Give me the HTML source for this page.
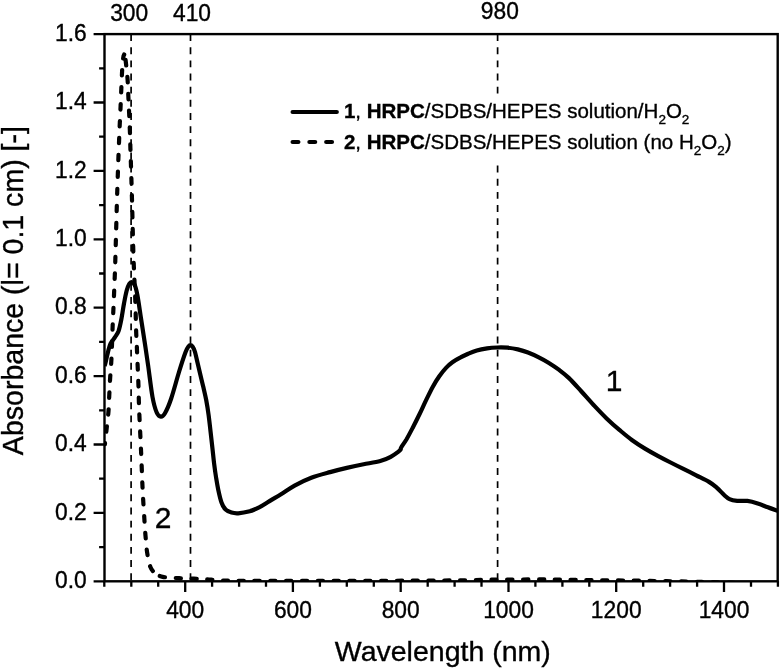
<!DOCTYPE html>
<html><head><meta charset="utf-8"><title>Absorbance spectrum</title>
<style>html,body{margin:0;padding:0;background:#fff}svg{display:block}</style></head>
<body>
<svg width="781" height="670" viewBox="0 0 781 670">
<rect width="781" height="670" fill="#fff"/>
<line x1="131.1" y1="34.1" x2="131.1" y2="581.3" stroke="#000" stroke-width="1.7" stroke-dasharray="6.9 6.25"/>
<line x1="190.5" y1="34.1" x2="190.5" y2="581.3" stroke="#000" stroke-width="1.7" stroke-dasharray="6.9 6.25"/>
<line x1="497.6" y1="34.1" x2="497.6" y2="581.3" stroke="#000" stroke-width="1.7" stroke-dasharray="6.9 6.25"/>
<clipPath id="cp"><rect x="104.5" y="34.1" width="673.2" height="547.2"/></clipPath>
<g fill="none" stroke="#000" stroke-linejoin="round" stroke-width="4.2" clip-path="url(#cp)">
<path d="M104.3 365.5C104.5 365.2 104.6 366.2 105.2 364.0C105.8 361.8 107.0 355.8 107.9 352.4C108.8 349.0 109.3 346.1 110.5 343.6C111.7 341.1 113.7 339.3 115.0 337.2C116.3 335.1 117.5 333.8 118.6 330.9C119.6 327.9 120.4 324.1 121.3 319.5C122.2 314.9 123.1 308.3 124.0 303.5C124.9 298.7 125.8 293.8 126.7 290.5C127.6 287.2 128.5 285.2 129.3 283.8C130.2 282.4 130.9 282.0 131.8 282.2C132.7 282.4 133.8 282.6 134.7 284.8C135.6 287.0 136.3 289.5 137.4 295.1C138.5 300.7 139.8 310.6 141.0 318.4C142.2 326.1 143.4 333.7 144.6 341.6C145.8 349.5 146.9 356.8 148.2 366.0C149.5 375.2 151.1 389.2 152.5 397.0C153.9 404.8 155.3 409.2 156.7 412.5C158.1 415.8 159.5 416.5 160.9 416.6C162.3 416.7 163.4 416.0 165.1 413.0C166.8 410.0 168.9 405.3 171.2 398.5C173.5 391.7 176.6 379.8 179.0 372.0C181.4 364.2 184.0 356.2 185.6 352.0C187.2 347.8 187.7 347.6 188.5 346.5C189.3 345.4 189.7 345.2 190.4 345.2C191.1 345.2 191.7 345.4 192.5 346.5C193.3 347.6 194.2 349.2 195.0 352.0C195.8 354.8 196.7 359.2 197.6 363.0C198.5 366.8 199.4 370.6 200.3 374.5C201.2 378.4 202.2 382.2 203.2 386.5C204.2 390.8 205.3 395.2 206.2 400.0C207.1 404.8 207.9 409.7 208.6 415.0C209.3 420.3 210.0 426.5 210.6 432.0C211.2 437.5 211.8 442.8 212.4 448.0C213.0 453.2 213.5 458.7 214.1 463.5C214.7 468.3 215.3 472.7 216.0 477.0C216.7 481.3 217.3 485.2 218.2 489.5C219.1 493.8 220.3 499.1 221.5 502.5C222.7 505.9 223.9 507.9 225.6 509.6C227.3 511.3 229.4 512.0 231.5 512.6C233.6 513.2 235.3 513.5 238.2 513.3C241.0 513.1 245.1 512.6 248.6 511.6C252.1 510.6 255.6 509.1 259.1 507.4C262.6 505.6 265.9 503.3 269.5 501.1C273.1 498.9 276.8 496.9 281.0 494.3C285.2 491.7 289.6 488.4 294.6 485.6C299.7 482.8 305.4 479.9 311.3 477.7C317.2 475.4 324.2 473.7 330.1 472.1C336.0 470.5 341.2 469.2 346.8 467.9C352.4 466.6 358.0 465.4 363.6 464.3C369.2 463.2 375.8 462.2 380.3 461.0C384.8 459.8 387.7 458.4 390.7 456.8C393.7 455.2 396.9 452.8 398.5 451.6C400.1 450.4 400.1 450.2 400.6 449.5C401.1 448.8 400.3 448.9 401.3 447.2C402.3 445.5 404.4 442.8 406.4 439.5C408.3 436.2 410.8 431.4 413.0 427.2C415.2 422.9 417.4 418.5 419.6 414.0C421.8 409.5 423.9 404.6 426.1 400.1C428.3 395.6 430.5 390.9 432.7 386.9C434.9 382.9 437.1 379.4 439.3 376.3C441.5 373.2 443.6 370.4 445.8 368.1C448.0 365.8 449.9 364.1 452.4 362.3C454.9 360.5 457.9 358.8 460.6 357.4C463.3 355.9 465.8 354.8 468.5 353.6C471.2 352.4 473.7 351.3 476.8 350.4C479.9 349.5 483.7 348.8 487.1 348.3C490.5 347.8 493.9 347.6 497.3 347.5C500.7 347.4 504.2 347.4 507.6 347.7C511.0 348.0 514.4 348.6 517.8 349.4C521.2 350.2 524.6 351.2 528.0 352.5C531.4 353.8 534.9 355.4 538.3 357.1C541.7 358.8 545.1 360.6 548.5 362.7C551.9 364.8 555.4 367.1 558.8 369.7C562.2 372.3 565.3 374.6 569.0 378.1C572.7 381.7 576.9 386.5 581.0 391.0C585.1 395.5 589.5 400.6 593.8 405.2C598.1 409.8 602.3 414.3 606.6 418.4C610.9 422.5 615.1 426.3 619.4 429.9C623.7 433.5 627.9 437.1 632.2 440.2C636.5 443.3 640.7 446.0 645.0 448.6C649.3 451.2 653.5 453.5 657.8 455.8C662.1 458.1 666.3 460.3 670.6 462.5C674.9 464.7 679.1 466.8 683.4 468.9C687.7 471.0 691.9 473.1 696.2 475.3C700.5 477.5 705.6 479.8 709.0 481.9C712.4 483.9 714.1 485.4 716.7 487.6C719.3 489.8 722.3 493.3 724.4 495.2C726.5 497.1 727.4 498.2 729.5 499.1C731.6 500.1 734.2 500.6 737.2 500.9C740.2 501.2 744.0 500.5 747.4 500.9C750.8 501.3 754.3 502.3 757.7 503.4C761.1 504.5 764.6 506.1 767.9 507.3C771.2 508.6 776.1 510.3 777.7 510.9" stroke-linecap="butt"/>
<path d="M124.2 54.5C124.0 55.1 123.6 54.9 123.2 58.0C122.8 61.1 122.4 65.1 122.0 73.1C121.6 81.1 121.1 94.8 120.6 106.0C120.1 117.2 119.6 126.3 119.1 140.3C118.5 154.3 117.9 171.7 117.3 190.0C116.7 208.3 116.0 235.8 115.6 250.0C115.2 264.2 115.2 265.5 114.8 275.4C114.4 285.3 113.8 300.8 113.4 309.4C113.0 318.0 112.9 318.9 112.6 327.3C112.3 335.7 111.8 351.3 111.4 359.6C111.0 367.9 110.6 371.1 110.2 377.0C109.8 382.9 109.6 389.0 109.3 394.7C109.0 400.4 108.9 405.4 108.5 411.0C108.1 416.6 107.2 423.2 106.7 428.0C106.2 432.8 105.7 436.8 105.4 439.5C105.1 442.2 105.0 443.4 104.9 444.2" stroke-linecap="round" stroke-dasharray="5.4 11.57" stroke-dashoffset="1.1"/>
<path d="M124.2 54.5C124.4 55.0 124.9 56.1 125.2 57.5C125.5 58.9 125.5 59.1 125.9 62.8C126.3 66.5 127.2 74.2 127.6 79.9C128.0 85.7 128.1 91.6 128.4 97.3C128.7 103.0 128.9 108.6 129.2 114.3C129.4 120.0 129.7 125.6 129.9 131.3C130.1 137.0 130.1 137.0 130.4 148.4C130.8 159.8 131.5 181.4 132.0 200.0C132.5 218.6 133.0 243.3 133.6 260.0C134.2 276.7 134.9 288.3 135.3 300.4C135.7 312.5 135.9 324.3 136.2 332.7C136.5 341.1 136.7 342.6 137.0 350.6C137.3 358.7 137.9 370.9 138.3 381.0C138.7 391.1 138.7 399.2 139.2 411.0C139.7 422.8 140.6 440.5 141.1 452.0C141.6 463.5 141.9 472.6 142.2 480.0C142.5 487.4 142.7 490.1 143.0 496.4C143.3 502.7 143.9 511.2 144.3 517.8C144.7 524.4 145.0 530.1 145.5 535.8C146.0 541.5 146.3 547.0 147.1 552.2C147.9 557.4 149.0 563.4 150.4 567.0C151.8 570.6 154.5 572.5 155.3 573.6" stroke-linecap="round" stroke-dasharray="5.6 11.3" stroke-dashoffset="11.2"/>
<path d="M155.3 573.6C156.5 574.1 158.7 576.1 162.7 576.9C166.7 577.7 173.9 577.9 179.1 578.2C184.3 578.5 189.2 578.5 193.9 578.7C198.6 578.9 202.7 579.0 207.0 579.3C211.3 579.6 212.8 580.1 220.0 580.4C227.2 580.6 228.3 580.7 250.0 580.8C271.7 580.9 320.0 580.8 350.0 580.8C380.0 580.8 410.0 580.7 430.0 580.6C450.0 580.5 458.3 580.4 470.0 580.2C481.7 580.0 486.7 579.7 500.0 579.6C513.3 579.5 533.3 579.4 550.0 579.5C566.7 579.6 583.3 580.0 600.0 580.2C616.7 580.4 633.3 580.6 650.0 580.9C666.7 581.2 685.0 581.5 700.0 581.9C715.0 582.2 733.3 582.8 740.0 583.0" stroke-linecap="round" stroke-dasharray="5.2 10.6" stroke-dashoffset="-5.3"/>
</g>
<rect x="286" y="96" width="450" height="68" fill="#fff"/>
<line x1="292.6" y1="112" x2="336.8" y2="112" stroke="#000" stroke-width="4.2" stroke-linecap="round"/>
<line x1="292.6" y1="142" x2="339" y2="142" stroke="#000" stroke-width="4.2" stroke-linecap="round" stroke-dasharray="5.8 11"/>
<rect x="104.5" y="34.1" width="673.2" height="547.2" fill="none" stroke="#000" stroke-width="2.4"/>
<path d="M104.5 581.3H93.6M104.5 547.1H99.1M104.5 512.9H93.6M104.5 478.7H99.1M104.5 444.5H93.6M104.5 410.3H99.1M104.5 376.1H93.6M104.5 341.9H99.1M104.5 307.7H93.6M104.5 273.5H99.1M104.5 239.3H93.6M104.5 205.1H99.1M104.5 170.9H93.6M104.5 136.7H99.1M104.5 102.5H93.6M104.5 68.3H99.1M104.5 34.1H93.6M104.3 581.3V586.7M131.3 581.3V586.7M158.2 581.3V586.7M185.2 581.3V591.9M212.1 581.3V586.7M239.1 581.3V586.7M266.0 581.3V586.7M292.9 581.3V591.9M319.9 581.3V586.7M346.8 581.3V586.7M373.8 581.3V586.7M400.7 581.3V591.9M427.7 581.3V586.7M454.6 581.3V586.7M481.5 581.3V586.7M508.5 581.3V591.9M535.4 581.3V586.7M562.4 581.3V586.7M589.3 581.3V586.7M616.2 581.3V591.9M643.2 581.3V586.7M670.1 581.3V586.7M697.1 581.3V586.7M724.0 581.3V591.9M751.0 581.3V586.7M777.9 581.3V586.7" stroke="#000" stroke-width="2.3" fill="none"/>
<g font-family="'Liberation Sans', Arial, sans-serif" fill="#000" stroke="#000" stroke-width="0.35">
<g font-size="22.8px" text-anchor="end">
<text transform="translate(86.8 587.9) scale(1 1.04)">0.0</text>
<text transform="translate(86.8 519.5) scale(1 1.04)">0.2</text>
<text transform="translate(86.8 451.1) scale(1 1.04)">0.4</text>
<text transform="translate(86.8 382.7) scale(1 1.04)">0.6</text>
<text transform="translate(86.8 314.3) scale(1 1.04)">0.8</text>
<text transform="translate(86.8 245.9) scale(1 1.04)">1.0</text>
<text transform="translate(86.8 177.5) scale(1 1.04)">1.2</text>
<text transform="translate(86.8 109.1) scale(1 1.04)">1.4</text>
<text transform="translate(86.8 40.7) scale(1 1.04)">1.6</text>
</g>
<g font-size="22.8px" text-anchor="middle">
<text transform="translate(185.2 617.6) scale(1 1.04)">400</text>
<text transform="translate(292.9 617.6) scale(1 1.04)">600</text>
<text transform="translate(400.7 617.6) scale(1 1.04)">800</text>
<text transform="translate(508.5 617.6) scale(1 1.04)">1000</text>
<text transform="translate(616.2 617.6) scale(1 1.04)">1200</text>
<text transform="translate(724.0 617.6) scale(1 1.04)">1400</text>
<text transform="translate(129.2 21) scale(1 1.04)">300</text><text transform="translate(192 21) scale(1 1.04)">410</text><text transform="translate(499.8 19.1) scale(1 1.04)">980</text>
</g>
<text x="442.8" y="661.3" font-size="28.5px" text-anchor="middle">Wavelength (nm)</text>
<text transform="translate(22.5 290.6) rotate(-90) scale(1 1.06)" font-size="28.55px" text-anchor="middle">Absorbance (l= 0.1 cm) [-]</text>
<text x="605.8" y="391.3" font-size="30px">1</text>
<text x="154.7" y="528.2" font-size="30px">2</text>
<text x="343.9" y="118.3" font-size="20.5px"><tspan font-weight="bold">1</tspan>, <tspan font-weight="bold">HRPC</tspan>/SDBS/HEPES solution/H<tspan font-size="13.5px" dy="5.4">2</tspan><tspan dy="-5.4">O</tspan><tspan font-size="13.5px" dy="5.4">2</tspan></text>
<text x="343.9" y="149.4" font-size="20.5px"><tspan font-weight="bold">2</tspan>, <tspan font-weight="bold">HRPC</tspan>/SDBS/HEPES solution (no H<tspan font-size="13.5px" dy="5.4">2</tspan><tspan dy="-5.4">O</tspan><tspan font-size="13.5px" dy="5.4">2</tspan><tspan dy="-5.4">)</tspan></text>
</g>
</svg>
</body></html>
